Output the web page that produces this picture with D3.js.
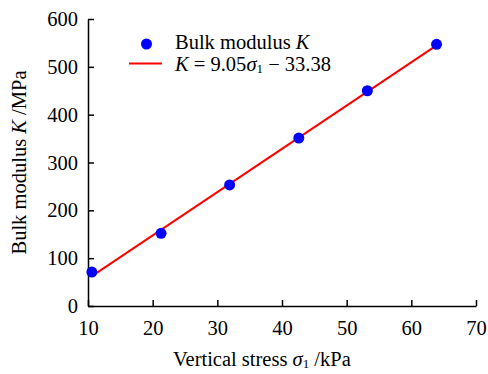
<!DOCTYPE html>
<html>
<head>
<meta charset="utf-8">
<script src="https://cdn.jsdelivr.net/npm/d3@7"></script>
<style>
  body { margin: 0; background: #fff; }
  svg text { font-family: "Liberation Serif", "Times New Roman", serif; fill: #000; }
</style>
</head>
<body>
<div id="chart"></div>
<script>
const stress = [10.6, 21.3, 31.9, 42.6, 53.2, 63.9];
const modulus = [71, 152, 253, 351, 450, 547];
const fitSlope = 9.05;
const fitIntercept = -33.38;
const xTicks = [10, 20, 30, 40, 50, 60, 70];
const yTicks = [0, 100, 200, 300, 400, 500, 600];

const margin = {top: 19, right: 12, bottom: 68, left: 88},
  width = 488 - margin.left - margin.right,
  height = 374 - margin.top - margin.bottom;

const fs = 20.5;

const x = d3.scaleLinear().domain([10, 70]).range([0, width]);
const y = d3.scaleLinear().domain([0, 600]).range([height, 0]);

const svg = d3.select('#chart').append('svg')
    .attr('width', 488)
    .attr('height', 374)
  .append('g')
    .attr('transform', `translate(${margin.left},${margin.top})`);

const xAxis = d3.axisBottom(x).tickValues(xTicks).tickSizeInner(-6).tickSizeOuter(0).tickPadding(14);
const yAxis = d3.axisLeft(y).tickValues(yTicks).tickSizeInner(-6).tickSizeOuter(0).tickPadding(10);

const gx = svg.append('g')
    .attr('transform', `translate(0,${height})`)
    .call(xAxis);
const gy = svg.append('g').call(yAxis);

[gx, gy].forEach(g => {
  g.select('.domain').attr('stroke', '#000').attr('stroke-width', 1.5);
  g.selectAll('.tick line').attr('stroke', '#000').attr('stroke-width', 1.5);
  g.selectAll('.tick text').attr('font-size', fs);
});

// fit line
const xFit = d3.extent(stress);
svg.append('line')
    .attr('x1', x(xFit[0]))
    .attr('y1', y(fitSlope * xFit[0] + fitIntercept))
    .attr('x2', x(xFit[1]))
    .attr('y2', y(fitSlope * xFit[1] + fitIntercept))
    .attr('stroke', '#ff0000')
    .attr('stroke-width', 2);

svg.selectAll('.pt')
  .data(stress)
  .enter().append('circle')
    .attr('class', 'pt')
    .attr('cx', d => x(d))
    .attr('cy', (d, i) => y(modulus[i]))
    .attr('r', 5.5)
    .attr('fill', '#0000ff');

// legend
const lg = svg.append('g');
lg.append('circle').attr('cx', 58.5).attr('cy', 25).attr('r', 5.5).attr('fill', '#0000ff');
lg.append('line').attr('x1', 41).attr('x2', 74).attr('y1', 44.5).attr('y2', 44.5)
  .attr('stroke', '#ff0000').attr('stroke-width', 2);

const t1 = lg.append('text').attr('x', 87).attr('y', 30).attr('font-size', fs);
t1.append('tspan').text('Bulk modulus ');
t1.append('tspan').attr('font-style', 'italic').text('K');

const t2 = lg.append('text').attr('x', 87).attr('y', 51.5).attr('font-size', fs);
t2.append('tspan').attr('font-style', 'italic').text('K');
t2.append('tspan').text(' = 9.05');
t2.append('tspan').attr('font-style', 'italic').text('σ');
t2.append('tspan').attr('font-size', 13).attr('dy', 2).text('1');
t2.append('tspan').attr('dy', -2).text(' − 33.38');

// axis titles
const xt = svg.append('text')
    .attr('x', 85)
    .attr('y', height + 60)
    .attr('font-size', fs);
xt.append('tspan').text('Vertical stress ');
xt.append('tspan').attr('font-style', 'italic').text('σ');
xt.append('tspan').attr('font-size', 13).attr('dy', 2).text('1');
xt.append('tspan').attr('dy', -2).text(' /kPa');

const yt = svg.append('text')
    .attr('transform', `translate(${-62},${height / 2}) rotate(-90)`)
    .attr('text-anchor', 'middle')
    .attr('font-size', fs);
yt.append('tspan').text('Bulk modulus ');
yt.append('tspan').attr('font-style', 'italic').text('K');
yt.append('tspan').text(' /MPa');
</script>
</body>
</html>
